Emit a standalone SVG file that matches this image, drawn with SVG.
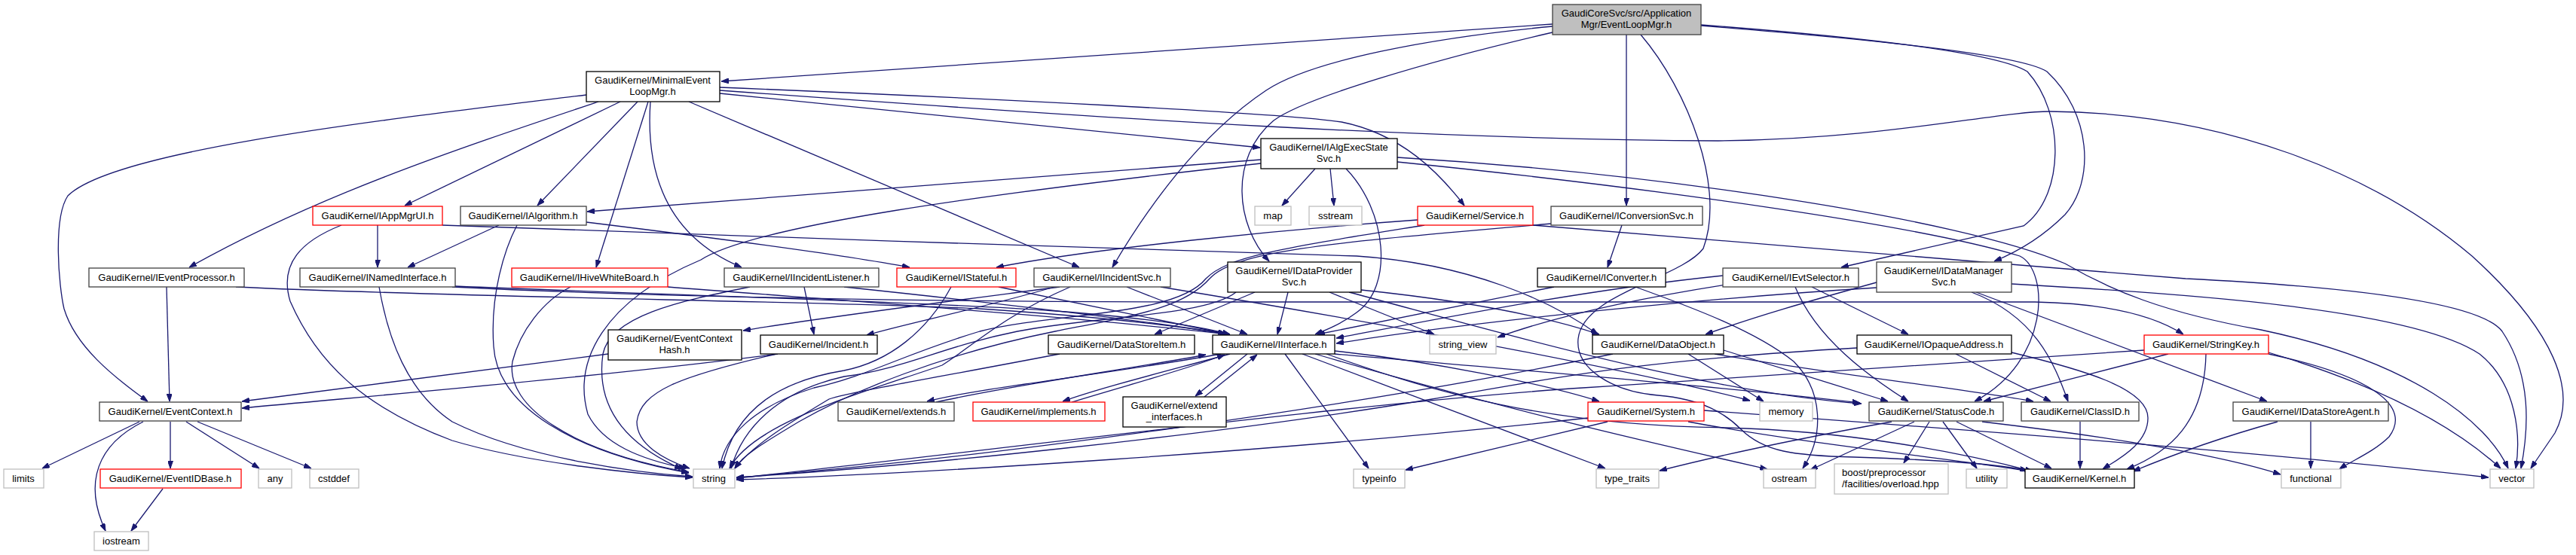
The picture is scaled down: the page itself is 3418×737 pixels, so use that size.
<svg xmlns="http://www.w3.org/2000/svg" width="3418" height="737" viewBox="0 0 3418 737">
<style>
rect{fill:#fff;stroke:#000;stroke-width:1.3}
.g rect{stroke:#404040}
.sys rect{stroke:#bfbfbf}
.red rect{stroke:#ff0000}
.root rect{fill:#bfbfbf;stroke:#404040}
text{font-family:"Liberation Sans",Arial,Helvetica,sans-serif;font-size:13px;text-anchor:middle;fill:#000}
.lft text{text-anchor:start}
#edges path{fill:none;stroke:#191970;stroke-width:1.3;marker-end:url(#a)}
</style>
<defs>
<marker id="a" markerUnits="userSpaceOnUse" viewBox="0 0 10 7" markerWidth="10" markerHeight="7" refX="10" refY="3.5" orient="auto"><path d="M0,0 L10,3.5 L0,7 z" fill="#191970" stroke="#191970" stroke-width="1"/></marker>
</defs>
<rect x="0" y="0" width="3418" height="737" style="fill:#fff;stroke:none"/>
<g id="edges">
<path d="M2060,32 L957,108"/>
<path d="M2060,35 C1900,50 1740,80 1680,120 C1590,180 1520,280 1476,355"/>
<path d="M2060,43 C1900,80 1730,130 1690,160 C1630,210 1640,300 1684,347"/>
<path d="M2158,46 L2158,273"/>
<path d="M2257,33 C2480,50 2650,70 2690,95 C2740,150 2740,260 2685,300 L2443,355"/>
<path d="M2257,34 C2480,52 2680,72 2716,95 C2775,150 2780,240 2740,285 C2710,315 2680,333 2646,347"/>
<path d="M2177,46 C2240,120 2290,250 2260,330 C2230,370 2100,390 2094,450 C2090,490 2140,520 2200,525 C2260,530 2290,550 2310,570 C2340,600 2380,605 2460,607 C2550,610 2650,615 2690,625"/>
<path d="M778,126 C500,160 150,200 90,260 C70,290 78,380 85,410 C100,460 150,500 196,533"/>
<path d="M794,135 C600,200 420,260 251,355"/>
<path d="M823,135 L537,273"/>
<path d="M846,135 L713,273"/>
<path d="M860,135 L791,355"/>
<path d="M863,135 C855,250 900,320 984,355"/>
<path d="M914,135 L1432,355"/>
<path d="M955,124 L1672,196"/>
<path d="M955,116 C1300,130 1700,150 1780,162 C1860,178 1910,230 1943,273"/>
<path d="M955,120 C1500,160 1900,185 2280,187 C2500,185 2650,148 2720,148 C2950,150 3150,230 3280,340 C3390,440 3420,520 3390,575 L3358,622"/>
<path d="M1673,212 L779,281"/>
<path d="M1673,217 C1300,258 1000,300 930,345 C800,400 760,480 780,550 C800,590 850,610 910,622"/>
<path d="M1745,224 L1701,273"/>
<path d="M1765,224 L1770,273"/>
<path d="M1786,224 C1840,280 1850,380 1800,415 C1780,430 1760,438 1745,444"/>
<path d="M1854,209 C2200,230 2600,290 2740,350 C2800,385 2870,415 3000,438 C3200,480 3300,560 3328,622"/>
<path d="M1854,215 C2200,250 2550,300 2680,340 C2720,360 2720,480 2620,533"/>
<path d="M501,299 L501,355"/>
<path d="M453,299 C400,320 370,350 385,400 C420,480 480,540 600,585 C700,615 850,630 919,634"/>
<path d="M587,299 C900,312 1500,330 1800,340 C1950,350 2060,400 2120,444"/>
<path d="M662,299 L541,355"/>
<path d="M686,299 C670,330 650,390 655,460 C660,540 760,600 914,628"/>
<path d="M778,295 C900,310 1100,335 1207,355"/>
<path d="M221,381 L225,533"/>
<path d="M313,381 C600,395 1100,400 1300,410 C1450,420 1560,432 1628,444"/>
<path d="M604,380 C900,392 1250,402 1400,413 C1520,422 1590,433 1632,444"/>
<path d="M600,381 C900,396 1300,401 1600,401 L2700,401 C2800,403 2860,420 2897,444"/>
<path d="M503,381 C515,450 540,520 600,560 C700,610 850,628 919,633"/>
<path d="M757,381 C720,400 690,440 680,480 C670,540 760,600 914,627"/>
<path d="M886,381 C1100,398 1400,418 1630,444"/>
<path d="M1067,381 L1080,444"/>
<path d="M995,381 C900,400 810,420 800,470 C790,540 830,590 905,623"/>
<path d="M1120,381 C1300,400 1500,423 1632,444"/>
<path d="M1262,381 C1230,440 1180,480 1120,492 C1040,505 975,540 958,622"/>
<path d="M1325,381 L1626,443"/>
<path d="M1399,381 C1300,410 1200,430 1150,445"/>
<path d="M1406,381 C1300,395 1100,420 986,439"/>
<path d="M1420,381 C1330,420 1290,460 1250,485 C1150,520 1000,560 968,622"/>
<path d="M1495,381 L1655,444"/>
<path d="M1540,381 C1900,440 2200,500 2322,532"/>
<path d="M1709,388 L1695,444"/>
<path d="M1665,388 L1532,444"/>
<path d="M1764,388 L1903,444"/>
<path d="M1806,385 C1950,400 2050,420 2122,444"/>
<path d="M1640,388 C1600,420 1450,420 1350,440 C1250,460 1200,490 1120,500 C1030,520 985,570 970,622"/>
<path d="M1790,388 C1950,430 2250,520 2470,536"/>
<path d="M1890,299 C1700,330 1630,340 1600,370 C1560,420 1400,415 1300,440 C1200,470 1150,500 1080,515 C1000,540 960,580 955,622"/>
<path d="M1881,292 C1700,305 1450,330 1322,355"/>
<path d="M2034,299 C2300,320 2700,355 2900,370 C3100,380 3290,400 3320,440 C3360,500 3355,570 3345,622"/>
<path d="M2152,299 L2133,355"/>
<path d="M2058,297 C1800,320 1640,330 1605,370 C1570,410 1500,420 1400,440 C1250,470 1130,520 1060,560 C1010,590 985,605 975,622"/>
<path d="M2062,381 L1748,444"/>
<path d="M2170,381 C2250,410 2330,440 2380,480 C2420,520 2420,580 2392,622"/>
<path d="M2286,366 C2100,385 1900,425 1773,449"/>
<path d="M2290,378 C2150,400 2050,425 1987,448"/>
<path d="M2382,381 C2410,450 2480,500 2532,533"/>
<path d="M2404,381 L2532,444"/>
<path d="M2490,382 C2200,400 1900,435 1773,456"/>
<path d="M2490,375 C2400,400 2330,420 2263,444"/>
<path d="M2616,388 C2700,420 2725,480 2744,533"/>
<path d="M2622,388 L3008,533"/>
<path d="M2669,377 C2900,390 3200,410 3290,470 C3340,510 3345,580 3338,622"/>
<path d="M2877,470 C2800,490 2700,515 2632,533"/>
<path d="M2927,470 C2925,560 2880,600 2822,623"/>
<path d="M2845,465 C2600,480 2350,500 2100,515 C1800,535 1300,600 977,635"/>
<path d="M3010,468 C3150,510 3250,560 3318,622"/>
<path d="M3010,470 C3150,500 3200,540 3170,580 C3150,600 3120,612 3104,623"/>
<path d="M3066,560 L3066,622"/>
<path d="M3022,560 C2950,580 2880,605 2830,626"/>
<path d="M2595,470 L2721,533"/>
<path d="M2669,468 C2760,490 2850,515 2850,555 C2850,590 2810,610 2790,623"/>
<path d="M2464,462 C2150,480 2050,505 1900,530 C1600,580 1200,620 977,634"/>
<path d="M2287,465 L2505,533"/>
<path d="M2275,470 C2450,500 2600,515 2698,533"/>
<path d="M2240,470 L2340,533"/>
<path d="M2140,470 C1800,540 1300,610 977,634"/>
<path d="M1620,470 C1450,500 1300,515 1230,533"/>
<path d="M1242,534 C1350,510 1500,490 1600,471"/>
<path d="M1632,470 C1540,495 1460,515 1410,533"/>
<path d="M1422,534 C1500,510 1570,492 1625,471"/>
<path d="M1655,470 L1586,526"/>
<path d="M1598,527 L1668,471"/>
<path d="M1705,470 L1816,622"/>
<path d="M1771,466 C1900,480 2050,510 2122,533"/>
<path d="M1728,470 L2130,622"/>
<path d="M1745,470 C2000,545 2200,590 2345,623"/>
<path d="M1771,470 C2000,490 2300,515 2468,535"/>
<path d="M1760,470 C1900,520 2050,565 2290,568 C2450,572 2600,600 2697,626"/>
<path d="M2133,560 L1865,624"/>
<path d="M2107,555 C1700,600 1200,630 977,637"/>
<path d="M2240,560 C2400,590 2600,610 2700,627"/>
<path d="M2261,545 C2600,570 3000,600 3302,634"/>
<path d="M2540,560 L2402,624"/>
<path d="M2560,560 L2526,615"/>
<path d="M2578,560 L2623,622"/>
<path d="M2596,560 L2722,622"/>
<path d="M2510,560 C2400,580 2300,600 2202,625"/>
<path d="M2630,560 C2800,580 2950,605 3026,630"/>
<path d="M2760,560 L2760,622"/>
<path d="M185,560 L56,622"/>
<path d="M190,560 C130,590 110,640 140,705"/>
<path d="M226,560 L226,622"/>
<path d="M247,560 L344,622"/>
<path d="M262,560 L413,622"/>
<path d="M216,649 L174,705"/>
<path d="M807,470 L321,533"/>
<path d="M1032,470 C800,500 500,525 321,542"/>
<path d="M1030,470 C900,500 850,520 845,560 C845,590 880,610 915,622"/>
<path d="M1406,470 C1250,500 1130,520 1100,530 C1050,560 1000,590 975,622"/>
</g>
<g id="n1" class="root"><rect x="2060" y="6" width="197" height="40"/><text x="2158" y="22">GaudiCoreSvc/src/Application</text><text x="2158" y="37">Mgr/EventLoopMgr.h</text></g>
<g id="n2"><rect x="778" y="95" width="177" height="40"/><text x="866" y="111">GaudiKernel/MinimalEvent</text><text x="866" y="126">LoopMgr.h</text></g>
<g id="n3"><rect x="1673" y="184" width="181" height="40"/><text x="1763" y="200">GaudiKernel/IAlgExecState</text><text x="1763" y="215">Svc.h</text></g>
<g id="n4" class="red"><rect x="415" y="274" width="172" height="25"/><text x="501" y="291">GaudiKernel/IAppMgrUI.h</text></g>
<g id="n5" class="g"><rect x="611" y="274" width="167" height="25"/><text x="694" y="291">GaudiKernel/IAlgorithm.h</text></g>
<g id="n49" class="sys"><rect x="1665" y="274" width="48" height="25"/><text x="1689" y="291">map</text></g>
<g id="n50" class="sys"><rect x="1737" y="274" width="70" height="25"/><text x="1772" y="291">sstream</text></g>
<g id="n6" class="red"><rect x="1881" y="274" width="153" height="25"/><text x="1957" y="291">GaudiKernel/Service.h</text></g>
<g id="n7" class="g"><rect x="2058" y="274" width="201" height="25"/><text x="2158" y="291">GaudiKernel/IConversionSvc.h</text></g>
<g id="n8" class="g"><rect x="118" y="356" width="206" height="25"/><text x="221" y="373">GaudiKernel/IEventProcessor.h</text></g>
<g id="n9" class="g"><rect x="398" y="356" width="206" height="25"/><text x="501" y="373">GaudiKernel/INamedInterface.h</text></g>
<g id="n10" class="red"><rect x="679" y="356" width="207" height="25"/><text x="782" y="373">GaudiKernel/IHiveWhiteBoard.h</text></g>
<g id="n11" class="g"><rect x="961" y="356" width="205" height="25"/><text x="1063" y="373">GaudiKernel/IIncidentListener.h</text></g>
<g id="n12" class="red"><rect x="1190" y="356" width="158" height="25"/><text x="1269" y="373">GaudiKernel/IStateful.h</text></g>
<g id="n13" class="g"><rect x="1372" y="356" width="181" height="25"/><text x="1462" y="373">GaudiKernel/IIncidentSvc.h</text></g>
<g id="n14"><rect x="1629" y="348" width="177" height="40"/><text x="1717" y="364">GaudiKernel/IDataProvider</text><text x="1717" y="379">Svc.h</text></g>
<g id="n15"><rect x="2040" y="356" width="170" height="25"/><text x="2125" y="373">GaudiKernel/IConverter.h</text></g>
<g id="n16" class="g"><rect x="2286" y="356" width="180" height="25"/><text x="2376" y="373">GaudiKernel/IEvtSelector.h</text></g>
<g id="n17" class="g"><rect x="2490" y="348" width="179" height="40"/><text x="2579" y="364">GaudiKernel/IDataManager</text><text x="2579" y="379">Svc.h</text></g>
<g id="n18"><rect x="807" y="438" width="177" height="40"/><text x="895" y="454">GaudiKernel/EventContext</text><text x="895" y="469">Hash.h</text></g>
<g id="n19"><rect x="1009" y="445" width="155" height="25"/><text x="1086" y="462">GaudiKernel/Incident.h</text></g>
<g id="n20"><rect x="1391" y="445" width="194" height="25"/><text x="1488" y="462">GaudiKernel/DataStoreItem.h</text></g>
<g id="n21"><rect x="1609" y="445" width="162" height="25"/><text x="1690" y="462">GaudiKernel/IInterface.h</text></g>
<g id="n22" class="sys"><rect x="1897" y="445" width="88" height="25"/><text x="1941" y="462">string_view</text></g>
<g id="n23"><rect x="2113" y="445" width="174" height="25"/><text x="2200" y="462">GaudiKernel/DataObject.h</text></g>
<g id="n24"><rect x="2464" y="445" width="205" height="25"/><text x="2566" y="462">GaudiKernel/IOpaqueAddress.h</text></g>
<g id="n25" class="red"><rect x="2845" y="445" width="165" height="25"/><text x="2927" y="462">GaudiKernel/StringKey.h</text></g>
<g id="n26" class="g"><rect x="132" y="534" width="188" height="25"/><text x="226" y="551">GaudiKernel/EventContext.h</text></g>
<g id="n27" class="g"><rect x="1112" y="534" width="154" height="25"/><text x="1189" y="551">GaudiKernel/extends.h</text></g>
<g id="n28" class="red"><rect x="1291" y="534" width="175" height="25"/><text x="1378" y="551">GaudiKernel/implements.h</text></g>
<g id="n29"><rect x="1490" y="527" width="137" height="40"/><text x="1558" y="543">GaudiKernel/extend</text><text x="1558" y="558">_interfaces.h</text></g>
<g id="n30" class="red"><rect x="2107" y="534" width="154" height="25"/><text x="2184" y="551">GaudiKernel/System.h</text></g>
<g id="n31" class="sys"><rect x="2335" y="534" width="70" height="25"/><text x="2370" y="551">memory</text></g>
<g id="n32" class="g"><rect x="2480" y="534" width="178" height="25"/><text x="2569" y="551">GaudiKernel/StatusCode.h</text></g>
<g id="n33" class="g"><rect x="2682" y="534" width="156" height="25"/><text x="2760" y="551">GaudiKernel/ClassID.h</text></g>
<g id="n34" class="g"><rect x="2963" y="534" width="206" height="25"/><text x="3066" y="551">GaudiKernel/IDataStoreAgent.h</text></g>
<g id="n35" class="sys"><rect x="5" y="623" width="53" height="25"/><text x="31" y="640">limits</text></g>
<g id="n36" class="red"><rect x="133" y="623" width="187" height="25"/><text x="226" y="640">GaudiKernel/EventIDBase.h</text></g>
<g id="n37" class="sys"><rect x="343" y="623" width="44" height="25"/><text x="365" y="640">any</text></g>
<g id="n38" class="sys"><rect x="411" y="623" width="65" height="25"/><text x="443" y="640">cstddef</text></g>
<g id="n39" class="sys"><rect x="920" y="623" width="55" height="25"/><text x="947" y="640">string</text></g>
<g id="n40" class="sys"><rect x="1796" y="623" width="68" height="25"/><text x="1830" y="640">typeinfo</text></g>
<g id="n41" class="sys"><rect x="2118" y="623" width="83" height="25"/><text x="2159" y="640">type_traits</text></g>
<g id="n42" class="sys"><rect x="2340" y="623" width="69" height="25"/><text x="2374" y="640">ostream</text></g>
<g id="n43" class="sys lft"><rect x="2434" y="616" width="151" height="40"/><text x="2444" y="632">boost/preprocessor</text><text x="2444" y="647">/facilities/overload.hpp</text></g>
<g id="n44" class="sys"><rect x="2609" y="623" width="54" height="25"/><text x="2636" y="640">utility</text></g>
<g id="n45"><rect x="2687" y="623" width="145" height="25"/><text x="2759" y="640">GaudiKernel/Kernel.h</text></g>
<g id="n46" class="sys"><rect x="3027" y="623" width="79" height="25"/><text x="3066" y="640">functional</text></g>
<g id="n47" class="sys"><rect x="3304" y="623" width="58" height="25"/><text x="3333" y="640">vector</text></g>
<g id="n48" class="sys"><rect x="125" y="706" width="72" height="25"/><text x="161" y="723">iostream</text></g>
</svg>
